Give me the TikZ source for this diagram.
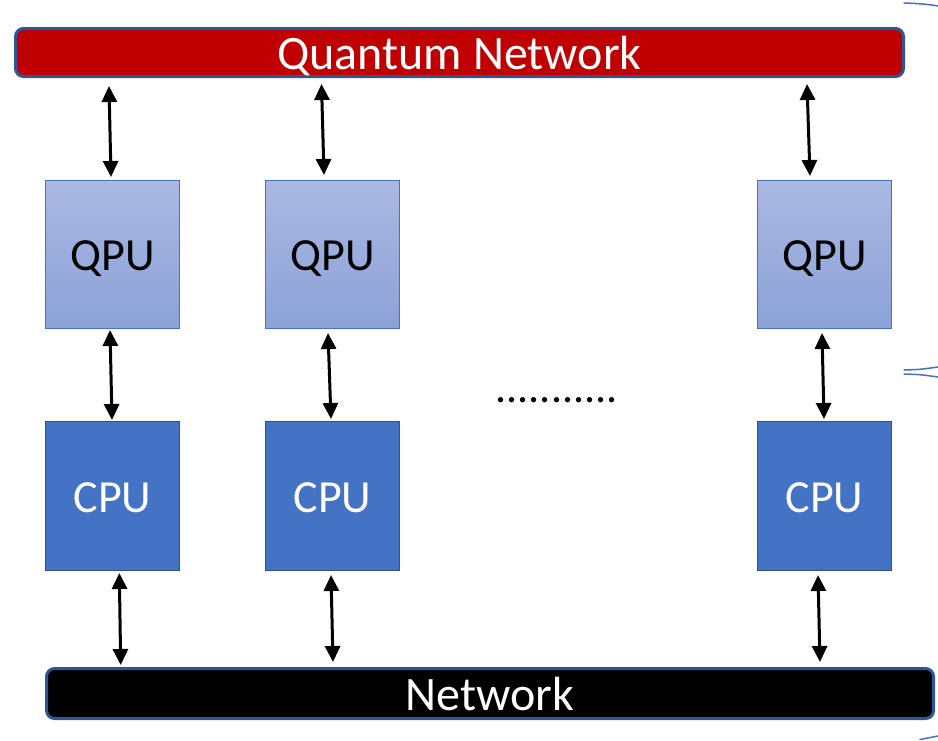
\documentclass[tikz,border=0pt]{standalone}
\usepackage{fontspec}
\setmainfont{Carlito}
\usetikzlibrary{arrows.meta,calc}
\definecolor{qred}{HTML}{C00000}
\definecolor{barblue}{HTML}{2F5597}
\definecolor{qtop}{RGB}{170,184,226}
\definecolor{qbot}{RGB}{140,162,216}
\definecolor{cpufill}{HTML}{4472C4}
\definecolor{cpuedge}{HTML}{2F528F}
\definecolor{pen}{HTML}{4472C4}
\newcommand{\lowtext}[2]{\raisebox{-#1}[0pt][0pt]{#2}}
\begin{document}
\begin{tikzpicture}[x=1pt,y=-1pt,
  bar/.style={draw=barblue, line width=3pt, rounded corners=8pt, text=white,
    font=\fontsize{48}{50}\selectfont, inner sep=0pt, outer sep=0pt},
  qpubox/.style={draw=cpufill, line width=1pt, top color=qtop, bottom color=qbot,
    minimum width=134pt, minimum height=148pt, text=black,
    font=\fontsize{46}{48}\selectfont, inner sep=0pt, outer sep=0pt},
  cpubox/.style={draw=cpuedge, line width=1pt, fill=cpufill,
    minimum width=134pt, minimum height=149pt, text=white,
    font=\fontsize{46}{48}\selectfont, inner sep=0pt, outer sep=0pt},
  arr/.style={line width=3pt, {Triangle[width=15pt,length=16pt]}-{Triangle[width=15pt,length=16pt]}},
  penline/.style={draw=pen, line width=1.5pt, line cap=round}
]
\useasboundingbox (0,0) rectangle (938,740);

\node[bar, fill=qred, minimum width=888pt, minimum height=48pt] (qn) at (459.5,52.5) {\lowtext{17pt}{Quantum Network}};
\node[bar, fill=black, minimum width=887pt, minimum height=50pt] (net) at (490,693.5) {\lowtext{16.5pt}{Network}};

\node[qpubox] (qpu1) at (112.5,254.5) {\lowtext{15.5pt}{QPU}};
\node[qpubox] (qpu2) at (332.5,254.5) {\lowtext{15.5pt}{QPU}};
\node[qpubox] (qpu3) at (824.5,254.5) {\lowtext{15.5pt}{QPU}};

\node[cpubox] (cpu1) at (112.5,496) {\lowtext{16.5pt}{CPU}};
\node[cpubox] (cpu2) at (332.5,496) {\lowtext{16.5pt}{CPU}};
\node[cpubox] (cpu3) at (824.5,496) {\lowtext{16.5pt}{CPU}};

\node[anchor=base, inner sep=0pt, font=\fontsize{44}{48}\selectfont] (dots) at (556.7,402) {...........};

% top arrows
\draw[arr] ($(qpu1.north |- qn.south)+(-3.5,9.5)$) -- ($(qpu1.north)+(-1.5,-3.5)$);
\draw[arr] ($(qpu2.north |- qn.south)+(-11,7.5)$) -- ($(qpu2.north)+(-8.5,-5.5)$);
\draw[arr] ($(qpu3.north |- qn.south)+(-17.5,7.5)$) -- ($(qpu3.north)+(-14.5,-4.5)$);
% middle arrows
\draw[arr] ($(qpu1.south)+(-2.5,1.5)$) -- ($(cpu1.north)+(-0.5,-1.5)$);
\draw[arr] ($(qpu2.south)+(-4.5,4.5)$) -- ($(cpu2.north)+(-1.5,-2.5)$);
\draw[arr] ($(qpu3.south)+(-2.5,4.5)$) -- ($(cpu3.north)+(-0.5,-2.5)$);
% bottom arrows
\draw[arr] ($(cpu1.south)+(6.8,2.5)$) -- ($(cpu1.south |- net.north)+(8.2,-3.5)$);
\draw[arr] ($(cpu2.south)+(-1.5,4.5)$) -- ($(cpu2.south |- net.north)+(0.5,-6.5)$);
\draw[arr] ($(cpu3.south)+(-6.5,4.5)$) -- ($(cpu3.south |- net.north)+(-4.5,-6.5)$);

% pen strokes at right edge
\draw[penline] (904,3) .. controls (920,3.5) and (930,4.5) .. (938,6);
\draw[penline] (904,370) .. controls (920,369.5) .. (938,367);
\draw[penline] (904,374) .. controls (920,374.5) .. (938,377);
\draw[penline] (920,739.5) -- (938,736);
\end{tikzpicture}
\end{document}
